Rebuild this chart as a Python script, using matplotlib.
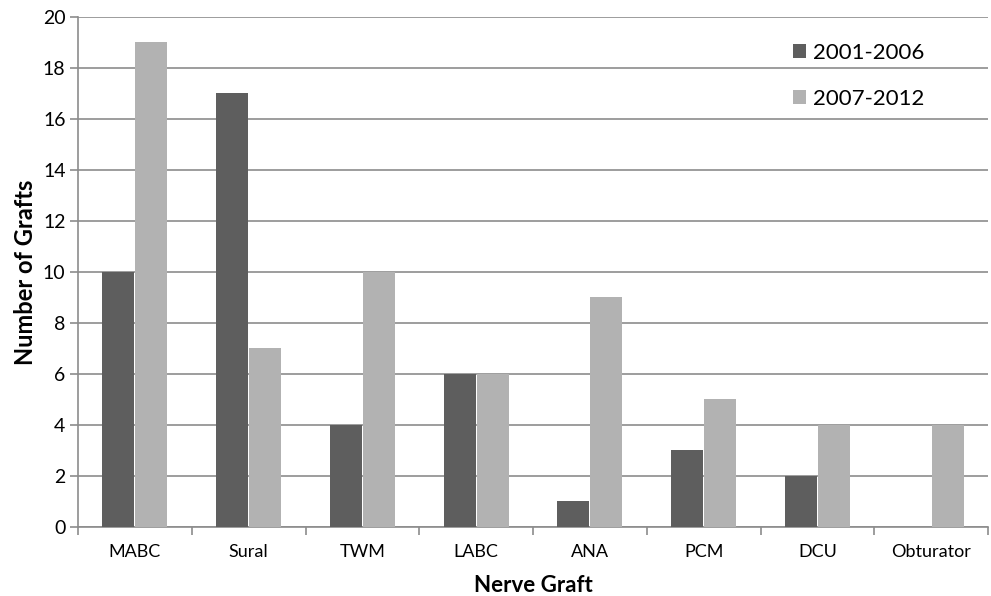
import matplotlib
matplotlib.use("Agg")
import matplotlib.pyplot as plt
import numpy as np

grafts = ["MABC", "Sural", "TWM", "LABC", "ANA", "PCM", "DCU", "Obturator"]
early = [10, 17, 4, 6, 1, 3, 2, 0]
late = [19, 7, 10, 6, 9, 5, 4, 4]
yticks = list(range(0, 21, 2))

DARK = "#5e5e5e"
LIGHT = "#b2b2b2"
GRID = "#8c8c8c"

plt.rcParams["font.family"] = ["Lato", "DejaVu Sans"]

fig = plt.figure(figsize=(9.91, 5.96), dpi=100)
ax = fig.add_axes([0.0787, 0.1158, 0.9183, 0.8557])

x = np.arange(len(grafts))
w = 0.28
ax.bar(x - w / 2 - 0.005, early, w, color=DARK, label="2001-2006", zorder=3)
ax.bar(x + w / 2 + 0.005, late, w, color=LIGHT, label="2007-2012", zorder=3)

ax.set_xlim(-0.5, len(grafts) - 0.5)
ax.set_ylim(0, 20)
ax.set_yticks(yticks)
ax.yaxis.grid(True, color=GRID, lw=1.2, zorder=0)
ax.set_axisbelow(True)

ax.set_xticks(x)
ax.set_xticklabels(grafts, fontsize=13)
ax.set_xticks(np.arange(-0.5, len(grafts)), minor=True)
ax.tick_params(axis="x", which="major", length=0, pad=12)
ax.tick_params(axis="x", which="minor", length=6, color=GRID, width=1.2)
ax.tick_params(axis="y", length=6, color=GRID, width=1.2, labelsize=14, pad=3)

for s in ["top", "right"]:
    ax.spines[s].set_visible(False)
for s in ["left", "bottom"]:
    ax.spines[s].set_color(GRID)
    ax.spines[s].set_linewidth(1.2)

ax.set_xlabel("Nerve Graft", fontsize=16, fontweight="bold", labelpad=11)
ax.set_ylabel("Number of Grafts", fontsize=17, fontweight="bold", labelpad=4)

fig.legend(loc="upper left", bbox_to_anchor=(793 / 991, 1 - 43 / 596),
           bbox_transform=fig.transFigure, frameon=False, borderpad=0,
           borderaxespad=0, fontsize=16, handlelength=0.6, handleheight=0.6,
           handletextpad=0.3, labelspacing=1.15,
           handles=ax.get_legend_handles_labels()[0])

fig.savefig("out.png", dpi=100)
